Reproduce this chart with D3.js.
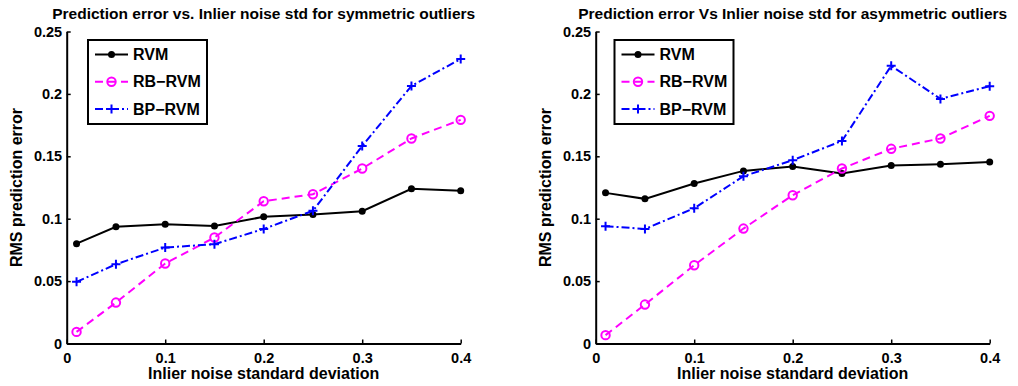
<!DOCTYPE html>
<html>
<head>
<meta charset="utf-8">
<script src="https://cdn.jsdelivr.net/npm/d3@7"></script>
<style>
  body { margin: 0; background: #fff; }
  text { font-family: "Liberation Sans", Arial, sans-serif; font-weight: bold; fill: #000; }
</style>
</head>
<body>
<svg width="1018" height="386"></svg>
<script>
// noise std values (x axis)
var noiseStd = [0.01, 0.05, 0.1, 0.15, 0.2, 0.25, 0.3, 0.35, 0.4];

// symmetric outliers
var symRVM   = [0.080, 0.0935, 0.0956, 0.0942, 0.1015, 0.1034, 0.106, 0.1239, 0.1223];
var symRBRVM = [0.0093, 0.0328, 0.0641, 0.0849, 0.114, 0.1196, 0.1402, 0.1643, 0.1792];
var symBPRVM = [0.0494, 0.0635, 0.0769, 0.0796, 0.0918, 0.1063, 0.1583, 0.2064, 0.228];

// asymmetric outliers
var asymRVM   = [0.1207, 0.1159, 0.1282, 0.1383, 0.1418, 0.1362, 0.1426, 0.1437, 0.1455];
var asymRBRVM = [0.0067, 0.0312, 0.0627, 0.0921, 0.1188, 0.1402, 0.156, 0.1643, 0.1824];
var asymBPRVM = [0.094, 0.0918, 0.1084, 0.134, 0.1469, 0.1623, 0.2225, 0.196, 0.2062];

var xTicks = [0, 0.1, 0.2, 0.3, 0.4];
var yTicks = [0, 0.05, 0.1, 0.15, 0.2, 0.25];
var seriesNames = ["RVM", "RB\u2212RVM", "BP\u2212RVM"];

var svg = d3.select("svg");

var styles = [
  {color: "#000", dash: null, marker: "dot"},
  {color: "#ff00ff", dash: "8,5", marker: "circle"},
  {color: "#0000ff", dash: "8,3,2,3", marker: "plus"}
];

function drawPanel(left, title, ylist, legendX) {
  var x = d3.scaleLinear().domain([0, 0.4]).range([left, left + 394]);
  var y = d3.scaleLinear().domain([0, 0.25]).range([343.5, 31.5]);
  var g = svg.append("g");

  // axes (ticks pointing inward)
  var xa = g.append("g").attr("transform", "translate(0," + y(0) + ")")
    .call(d3.axisBottom(x).tickValues(xTicks).tickSizeInner(-4).tickSizeOuter(0).tickPadding(9.5)
      .tickFormat(function(d) { return d === 0 ? "0" : d3.format("")(d); }));
  var ya = g.append("g").attr("transform", "translate(" + x(0) + ",0)")
    .call(d3.axisLeft(y).tickValues(yTicks).tickSizeInner(-4).tickSizeOuter(0).tickPadding(4.5)
      .tickFormat(function(d) { return d === 0 ? "0" : d3.format("")(d); }));
  [xa, ya].forEach(function(a) {
    a.select(".domain").attr("stroke", "#000").attr("stroke-width", 2);
    a.selectAll(".tick line").attr("stroke", "#000").attr("stroke-width", 1.5);
    a.selectAll("text").style("font-size", "14.5px").attr("fill", "#000");
  });

  var line = d3.line().x(function(d, i) { return x(noiseStd[i]); }).y(function(d) { return y(d); });

  ylist.forEach(function(vals, k) {
    var s = styles[k];
    g.append("path").datum(vals).attr("d", line)
      .attr("fill", "none").attr("stroke", s.color).attr("stroke-width", 2)
      .attr("stroke-dasharray", s.dash);
    vals.forEach(function(v, i) {
      drawMarker(g, s, x(noiseStd[i]), y(v));
    });
  });

  // title and axis labels
  g.append("text").attr("x", x(0.2)).attr("y", 19).attr("text-anchor", "middle")
    .style("font-size", "15.5px").text(title);
  g.append("text").attr("x", x(0.2)).attr("y", 379).attr("text-anchor", "middle")
    .style("font-size", "16px").text("Inlier noise standard deviation");
  g.append("text").attr("transform", "translate(" + (left - 45) + "," + y(0.125) + ") rotate(-90)")
    .attr("text-anchor", "middle").style("font-size", "16px").text("RMS prediction error");

  // legend
  var lg = g.append("g").attr("transform", "translate(" + legendX + ",40)");
  lg.append("rect").attr("width", 119).attr("height", 84)
    .attr("fill", "#fff").attr("stroke", "#000").attr("stroke-width", 2);
  seriesNames.forEach(function(n, k) {
    var s = styles[k];
    var ry = 14.5 + k * 27.2;
    lg.append("line").attr("x1", 7).attr("x2", 40).attr("y1", ry).attr("y2", ry)
      .attr("stroke", s.color).attr("stroke-width", 2).attr("stroke-dasharray", s.dash);
    drawMarker(lg, s, 23.5, ry);
    lg.append("text").attr("x", 45).attr("y", ry).attr("dy", "0.36em")
      .style("font-size", "16px").text(n);
  });
}

function drawMarker(g, s, cx, cy) {
  if (s.marker === "dot") {
    g.append("circle").attr("cx", cx).attr("cy", cy).attr("r", 3.5).attr("fill", s.color);
  } else if (s.marker === "circle") {
    g.append("circle").attr("cx", cx).attr("cy", cy).attr("r", 4.2)
      .attr("fill", "none").attr("stroke", s.color).attr("stroke-width", 2);
  } else {
    g.append("path").attr("d", "M" + (cx - 4.5) + "," + cy + "H" + (cx + 4.5) + "M" + cx + "," + (cy - 4.5) + "V" + (cy + 4.5))
      .attr("stroke", s.color).attr("stroke-width", 2);
  }
}

drawPanel(66.7, "Prediction error vs. Inlier noise std for symmetric outliers",
  [symRVM, symRBRVM, symBPRVM], 88);
drawPanel(595.7, "Prediction error Vs Inlier noise std for asymmetric outliers",
  [asymRVM, asymRBRVM, asymBPRVM], 614.5);
</script>
</body>
</html>
